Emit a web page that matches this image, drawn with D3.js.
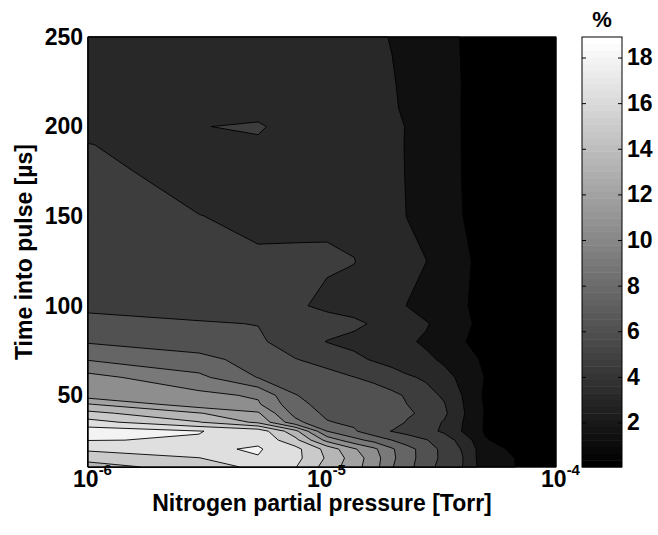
<!DOCTYPE html>
<html><head><meta charset="utf-8">
<script src="https://cdn.jsdelivr.net/npm/d3@7"></script>
<style>
body{margin:0;background:#fff;}
text{font-family:"Liberation Sans",Arial,Helvetica,sans-serif;font-weight:bold;fill:#000;}
</style>
</head><body>
<svg id="chart" width="658" height="535"></svg>
<script>
// Nitrogen partial pressure samples [Torr] (columns)
const pressures = [1e-6, 2.98e-6, 5.33e-6, 7.67e-6, 1.05e-5, 1.37e-5, 1.67e-5, 1.99e-5, 2.31e-5, 2.78e-5, 3.32e-5, 3.97e-5, 5.02e-5, 6.88e-5, 1e-4];
// Time into pulse samples [µs] (rows)
const times = [10, 15, 20, 25, 30, 35, 40, 45, 50, 60, 70, 80, 90, 100, 125, 150, 175, 190, 200, 210, 225, 250];
// Values [%], one array per time row
const row_t010 = [14.44, 15.6, 16.9, 16.6, 14.4, 12.6, 11.1, 9.1, 8.0, 6.6, 5.4, 4.55, 2.07, 1.45, 0.6];
const row_t015 = [15.44, 16.45, 17.92, 17.0, 14.8, 12.8, 11.2, 9.3, 8.1, 6.8, 5.6, 4.6, 1.9, 1.45, 0.6];
const row_t020 = [16.8, 17.73, 18.15, 17.0, 14.5, 12.2, 10.8, 9.2, 8.0, 6.9, 5.5, 4.4, 2.0, 1.2, 0.5];
const row_t025 = [18.05, 17.9, 17.71, 15.5, 11.5, 9.5, 8.5, 7.5, 6.8, 6.1, 5.2, 4.0, 1.6, 0.8, 0.4];
const row_t030 = [18.8, 18.05, 17.46, 14.0, 9.0, 7.7, 6.5, 5.95, 5.5, 4.9, 4.3, 2.95, 1.3, 0.6, 0.35];
const row_t035 = [17.05, 15.08, 13.2, 9.5, 7.6, 7.2, 6.9, 6.6, 5.9, 5.1, 4.4, 3.05, 1.3, 0.6, 0.35];
const row_t040 = [15.44, 13.6, 12.2, 8.5, 7.2, 6.9, 6.7, 6.5, 6.2, 5.7, 4.8, 3.2, 1.35, 0.6, 0.35];
const row_t045 = [13.6, 11.1, 10.7, 8.0, 6.9, 6.7, 6.5, 6.3, 6.0, 5.2, 4.6, 3.1, 1.3, 0.6, 0.35];
const row_t050 = [11.25, 10.9, 10.3, 7.55, 7.0, 6.8, 6.6, 6.3, 5.85, 5.0, 4.3, 2.98, 1.2, 0.6, 0.35];
const row_t060 = [11.0, 9.37, 7.45, 6.9, 6.4, 6.03, 5.7, 5.2, 4.7, 4.3, 3.3, 2.8, 1.4, 0.6, 0.35];
const row_t070 = [8.9, 7.9, 7.0, 6.05, 5.6, 4.85, 4.35, 3.95, 3.6, 3.2, 2.85, 2.1, 1.25, 0.65, 0.35];
const row_t080 = [7.35, 6.8, 6.2, 5.4, 4.45, 4.1, 3.75, 3.35, 3.15, 2.85, 2.3, 1.6, 1.0, 0.55, 0.3];
const row_t090 = [6.225, 6.1, 5.97, 5.6, 5.2, 4.8, 4.34, 3.9, 3.5, 3.1, 2.6, 1.8, 1.1, 0.6, 0.35];
const row_t100 = [5.85, 5.5, 5.1, 4.75, 4.135, 3.9, 3.6, 3.3, 2.98, 2.5, 2.0, 1.6, 1.2, 0.7, 0.4];
const row_t125 = [5.55, 4.9, 4.62, 4.67, 4.72, 4.55, 3.9, 3.55, 3.3, 3.02, 2.4, 1.75, 1.1, 0.6, 0.3];
const row_t150 = [5.2, 4.52, 4.3, 4.25, 4.2, 3.95, 3.7, 3.3, 2.98, 2.6, 2.1, 1.52, 1.0, 0.6, 0.3];
const row_t175 = [4.8, 4.07, 4.1, 4.1, 4.05, 3.85, 3.6, 3.25, 2.95, 2.55, 2.05, 1.48, 0.95, 0.55, 0.3];
const row_t190 = [4.512, 4.3, 4.32, 4.05, 3.95, 3.8, 3.55, 3.2, 2.95, 2.5, 2.0, 1.47, 0.9, 0.5, 0.3];
const row_t200 = [4.3, 4.46, 4.65, 4.0, 3.9, 3.75, 3.5, 3.15, 2.97, 2.5, 2.0, 1.47, 0.9, 0.5, 0.3];
const row_t210 = [4.15, 4.0, 4.07, 3.9, 3.85, 3.7, 3.45, 3.12, 2.85, 2.45, 1.95, 1.47, 0.9, 0.5, 0.3];
const row_t225 = [3.9, 3.9, 3.85, 3.8, 3.7, 3.6, 3.4, 3.1, 2.7, 2.3, 1.9, 1.48, 0.9, 0.5, 0.3];
const row_t250 = [3.6, 3.6, 3.55, 3.5, 3.45, 3.35, 3.2, 2.94, 2.6, 2.2, 1.8, 1.45, 0.9, 0.5, 0.3];
// Contour levels [%] and colour range
const levels = [1.5, 3, 4.5, 6, 7.5, 9, 10.5, 12, 13.5, 15, 16.5, 18];
const colorRange = [0.05, 18.9];
const yTicks = [50, 100, 150, 200, 250];
const xTicks = [1e-6, 1e-5, 1e-4];
const xTickExponents = ["-6", "-5", "-4"];
const cbTicks = [2, 4, 6, 8, 10, 12, 14, 16, 18];

const rows = [row_t010, row_t015, row_t020, row_t025, row_t030, row_t035, row_t040, row_t045, row_t050,
  row_t060, row_t070, row_t080, row_t090, row_t100, row_t125, row_t150, row_t175, row_t190, row_t200,
  row_t210, row_t225, row_t250];

const FONT = '"Liberation Sans",Arial,Helvetica,sans-serif';
const svg = d3.select("#chart");
const L = 88, R = 556, T = 37, B = 467;
const xScale = d3.scaleLog().domain([1e-6, 1e-4]).range([L, R]);
const yScale = d3.scaleLinear().domain([10, 250]).range([B, T]);

const n = pressures.length, m = times.length;
const grid = [].concat(...rows);
const idxToLogP = d3.scaleLinear().domain(d3.range(n)).range(pressures.map(Math.log10));
const idxToTime = d3.scaleLinear().domain(d3.range(m)).range(times);
const clampX = v => Math.max(0, Math.min(n - 1, v));
const clampY = v => Math.max(0, Math.min(m - 1, v));

const proj = d3.geoTransform({
  point: function(gx, gy) {
    const xi = clampX(gx - 0.5), yi = clampY(gy - 0.5);
    this.stream.point(xScale(Math.pow(10, idxToLogP(xi))), yScale(idxToTime(yi)));
  }
});
const path = d3.geoPath(proj);

// MATLAB-like 64-entry gray colormap
const cmapN = 64;
const grayFor = v => {
  let i = Math.floor((v - colorRange[0]) / (colorRange[1] - colorRange[0]) * cmapN);
  i = Math.max(0, Math.min(cmapN - 1, i));
  const g = Math.round(i / (cmapN - 1) * 255);
  return `rgb(${g},${g},${g})`;
};

const dataMin = d3.min(grid);
const thr = [dataMin - 1].concat(levels);
const contours = d3.contours().size([n, m]).thresholds(thr)(grid);

svg.append("g").selectAll("path")
  .data(contours)
  .join("path")
  .attr("d", path)
  .attr("fill", (d, i) => i === 0 ? grayFor(dataMin) : grayFor(d.value))
  .attr("stroke", "#000")
  .attr("stroke-width", 0.9)
  .attr("stroke-linejoin", "round");

// frame
svg.append("rect").attr("x", L).attr("y", T).attr("width", R - L).attr("height", B - T)
  .attr("fill", "none").attr("stroke", "#000").attr("stroke-width", 1);

// y axis
const yAxis = svg.append("g").attr("transform", `translate(${L},0)`)
  .call(d3.axisLeft(yScale).tickValues(yTicks).tickSize(0).tickPadding(5));
yAxis.select(".domain").remove();
yAxis.selectAll("text").style("font-size", "23px").style("font-family", FONT).style("font-weight", "bold");

// x axis with superscript labels
const xAxis = svg.append("g").attr("transform", `translate(0,${B})`)
  .call(d3.axisBottom(xScale).tickValues(xTicks).tickSize(0).tickPadding(0).tickFormat(() => ""));
xAxis.select(".domain").remove();
xAxis.selectAll(".tick text").remove();
xAxis.selectAll(".tick").each(function(d, i) {
  const t = d3.select(this).append("text")
    .attr("x", 4).attr("y", 20).attr("text-anchor", "middle")
    .style("font-size", "23px");
  t.append("tspan").text("10");
  t.append("tspan").attr("dy", -12).style("font-size", "15px").text(xTickExponents[i]);
});

// axis titles
svg.append("text").attr("x", (L + R) / 2).attr("y", 511).attr("text-anchor", "middle")
  .style("font-size", "23px").text("Nitrogen partial pressure [Torr]");
svg.append("text").attr("transform", `translate(32,${(T + B) / 2}) rotate(-90)`).attr("text-anchor", "middle")
  .style("font-size", "23px").text("Time into pulse [µs]");

// colorbar
const CL = 582, CR = 622;
const cbScale = d3.scaleLinear().domain(colorRange).range([B, T]);
const step = (colorRange[1] - colorRange[0]) / cmapN;
svg.append("g").selectAll("rect")
  .data(d3.range(cmapN))
  .join("rect")
  .attr("x", CL).attr("width", CR - CL)
  .attr("y", i => cbScale(colorRange[0] + (i + 1) * step))
  .attr("height", i => cbScale(colorRange[0] + i * step) - cbScale(colorRange[0] + (i + 1) * step) + 0.5)
  .attr("fill", i => { const g = Math.round(i / (cmapN - 1) * 255); return `rgb(${g},${g},${g})`; });
svg.append("rect").attr("x", CL).attr("y", T).attr("width", CR - CL).attr("height", B - T)
  .attr("fill", "none").attr("stroke", "#000").attr("stroke-width", 1);
const cbAxis = svg.append("g").attr("transform", `translate(${CR},0)`)
  .call(d3.axisRight(cbScale).tickValues(cbTicks).tickSizeInner(-4).tickSizeOuter(0).tickPadding(5));
cbAxis.select(".domain").remove();
cbAxis.selectAll("text").style("font-size", "23px").style("font-family", FONT).style("font-weight", "bold");
const cbAxisL = svg.append("g").attr("transform", `translate(${CL},0)`)
  .call(d3.axisLeft(cbScale).tickValues(cbTicks).tickSizeInner(-4).tickSizeOuter(0).tickFormat(() => ""));
cbAxisL.select(".domain").remove();
svg.append("text").attr("x", (CL + CR) / 2).attr("y", 27).attr("text-anchor", "middle")
  .style("font-size", "22px").text("%");
</script>
</body></html>
